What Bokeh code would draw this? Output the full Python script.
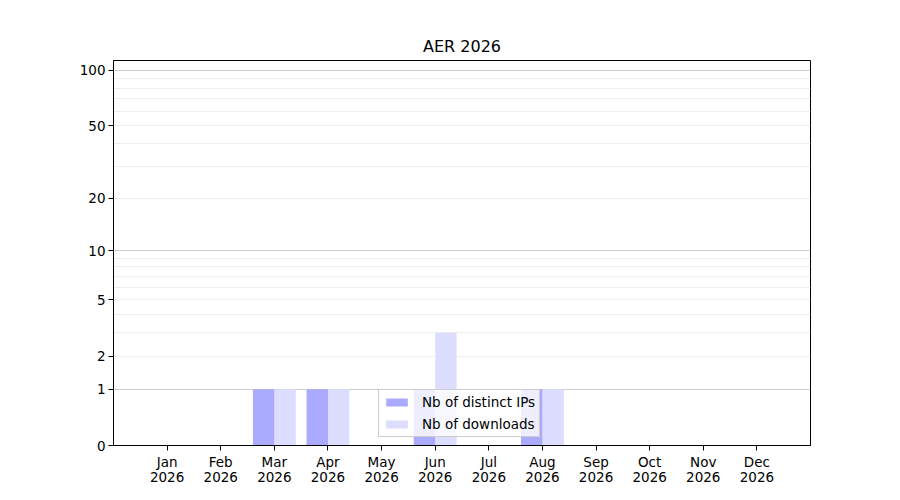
import math
from bokeh.plotting import figure
from bokeh.models import (Range1d, FixedTicker, Grid, Legend, LegendItem, ColumnDataSource)
from bokeh.embed import file_html
from bokeh.resources import INLINE

months = ["Jan", "Feb", "Mar", "Apr", "May", "Jun", "Jul", "Aug", "Sep", "Oct", "Nov", "Dec"]
year = "2026"
ips = [0, 0, 1, 1, 0, 1, 0, 1, 0, 0, 0, 0]
downloads = [0, 0, 1, 1, 0, 3, 0, 1, 0, 0, 0, 0]
y_tick_values = [0, 1, 2, 5, 10, 20, 50, 100]
major_grid_values = [1, 10, 100]
minor_grid_values = [2, 3, 4, 5, 6, 7, 8, 9, 20, 30, 40, 50, 60, 70, 80, 90]
y_max = 113

def tr(v):
    return math.log10(1 + v)

FONT = "DejaVu Sans"

xs = list(range(1, len(months) + 1))
src = ColumnDataSource(dict(
    x_ip=[x - 0.2 for x in xs],
    x_dl=[x + 0.2 for x in xs],
    ip=[tr(v) for v in ips],
    dl=[tr(v) for v in downloads],
))

p = figure(width=890, height=490, output_backend="svg", toolbar_location=None,
           x_range=Range1d(0, 13), y_range=Range1d(0, tr(y_max)),
           min_border_left=113, min_border_right=80, min_border_top=60, min_border_bottom=45,
           title="AER 2026")
p.title.align = "center"
p.title.text_font = FONT
p.title.text_font_size = "16px"
p.title.text_font_style = "normal"
p.title.text_color = "black"

r_ip = p.vbar(x="x_ip", top="ip", bottom=0, width=0.4, source=src,
              fill_color="#aaaaff", line_color=None)
r_dl = p.vbar(x="x_dl", top="dl", bottom=0, width=0.4, source=src,
              fill_color="#ddddff", line_color=None)

p.xgrid.visible = False
p.ygrid.ticker = FixedTicker(ticks=[tr(v) for v in major_grid_values])
p.ygrid.grid_line_color = "#cccccc"
p.ygrid.grid_line_width = 1
minor_grid = Grid(dimension=1, ticker=FixedTicker(ticks=[tr(v) for v in minor_grid_values]),
                  grid_line_color="#eeeeee", grid_line_width=1)
p.add_layout(minor_grid)
p.renderers.insert(0, p.renderers.pop())

p.xaxis.ticker = FixedTicker(ticks=xs)
p.xaxis.major_label_overrides = {x: f"{m}\n{year}" for x, m in zip(xs, months)}
p.yaxis.ticker = FixedTicker(ticks=[tr(v) for v in y_tick_values])
p.yaxis.major_label_overrides = {tr(v): str(v) for v in y_tick_values}

for ax in (p.xaxis[0], p.yaxis[0]):
    ax.major_label_text_font = FONT
    ax.major_label_text_font_size = "13.5px"
    ax.major_label_text_color = "black"
    ax.major_label_text_line_height = 0.95
    ax.axis_line_color = "black"
    ax.major_tick_line_color = "black"
    ax.major_tick_out = 5
    ax.major_tick_in = 0
    ax.minor_tick_out = 0
    ax.minor_tick_in = 0
    ax.major_label_standoff = 3

p.outline_line_color = "black"
p.outline_line_alpha = 1
p.outline_line_width = 1

legend = Legend(items=[LegendItem(label="Nb of distinct IPs", renderers=[r_ip]),
                       LegendItem(label="Nb of downloads", renderers=[r_dl])],
                location=(265, 8), margin=0, padding=4, spacing=6,
                glyph_width=27, glyph_height=10, label_height=16, label_standoff=12,
                label_text_font=FONT, label_text_font_size="13.5px", label_text_color="black",
                border_line_color="#cccccc", border_line_alpha=1, border_line_width=1,
                background_fill_alpha=0.8)
p.add_layout(legend, "center")

open("out.html", "w").write(file_html(p, INLINE))
